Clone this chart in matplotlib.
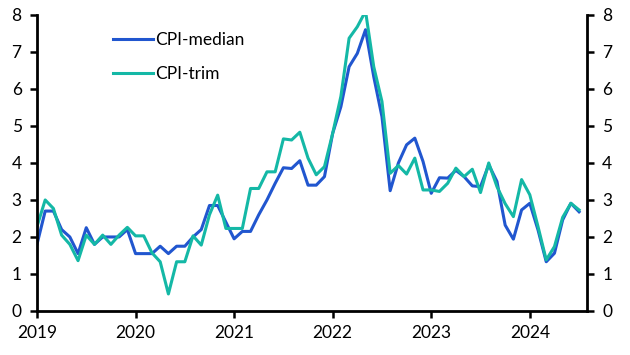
import numpy as np
import matplotlib
matplotlib.use("Agg")
import matplotlib.pyplot as plt

plt.rcParams['font.family'] = ['Lato', 'DejaVu Sans']

# monthly, Jan 2019 - Jul 2024 (% y/y)
cpi_median = [1.8, 2.7, 2.7, 2.2, 2.0, 1.55, 2.25, 1.8, 2.0, 2.0, 2.0, 2.2,
              1.55, 1.55, 1.55, 1.75, 1.55, 1.75, 1.75, 2.0, 2.2, 2.85, 2.85, 2.4,
              1.95, 2.15, 2.15, 2.6, 3.0, 3.45, 3.87, 3.85, 4.06, 3.4, 3.4, 3.63,
              4.8, 5.52, 6.6, 6.96, 7.6, 6.33, 5.25, 3.25, 4.0, 4.49, 4.67, 4.04,
              3.18, 3.6, 3.59, 3.8, 3.63, 3.38, 3.36, 3.95, 3.5, 2.32, 1.94, 2.73,
              2.91, 2.19, 1.33, 1.56, 2.46, 2.91, 2.68]
cpi_trim = [2.28, 3.0, 2.77, 2.05, 1.8, 1.36, 2.05, 1.8, 2.05, 1.8, 2.05, 2.26,
            2.03, 2.03, 1.57, 1.33, 0.46, 1.33, 1.33, 2.03, 1.78, 2.6, 3.13, 2.23,
            2.23, 2.23, 3.31, 3.31, 3.76, 3.76, 4.65, 4.62, 4.83, 4.13, 3.68, 3.9,
            4.8, 5.8, 7.37, 7.68, 8.1, 6.6, 5.66, 3.72, 3.93, 3.7, 4.13, 3.27,
            3.27, 3.23, 3.45, 3.86, 3.63, 3.83, 3.2, 4.0, 3.36, 2.9, 2.55, 3.55,
            3.14, 2.28, 1.38, 1.74, 2.53, 2.91, 2.73]
years = [2019, 2020, 2021, 2022, 2023, 2024]

x = 2019 + np.arange(len(cpi_median)) / 12

fig = plt.figure(figsize=(6.3, 3.55), dpi=100)
ax = fig.add_axes([0.0587, 0.124, 0.873, 0.834])

ax.plot(x, cpi_median, color='#2156CF', lw=2.2, label='CPI-median')
ax.plot(x, cpi_trim, color='#14B8A6', lw=2.2, label='CPI-trim')

ax.set_xlim(2019, 2024.58)
ax.set_ylim(0, 8)
ax.set_xticks(years)
ax.set_xticklabels([str(y) for y in years])
ax.set_yticks(range(0, 9))

ax.spines['top'].set_visible(False)
for s in ['left', 'right', 'bottom']:
    ax.spines[s].set_linewidth(2)
ax.tick_params(axis='both', labelsize=12.5, width=1.8, length=5, colors='black')
ax.tick_params(axis='y', right=True, labelright=True, pad=6)
ax.tick_params(axis='x', pad=5)

ax.legend(loc='upper left', bbox_to_anchor=(0.11, 0.995), frameon=False,
          fontsize=12.5, handlelength=2.3, handletextpad=0.1, labelspacing=1.05)

fig.savefig('out.png', dpi=100)
